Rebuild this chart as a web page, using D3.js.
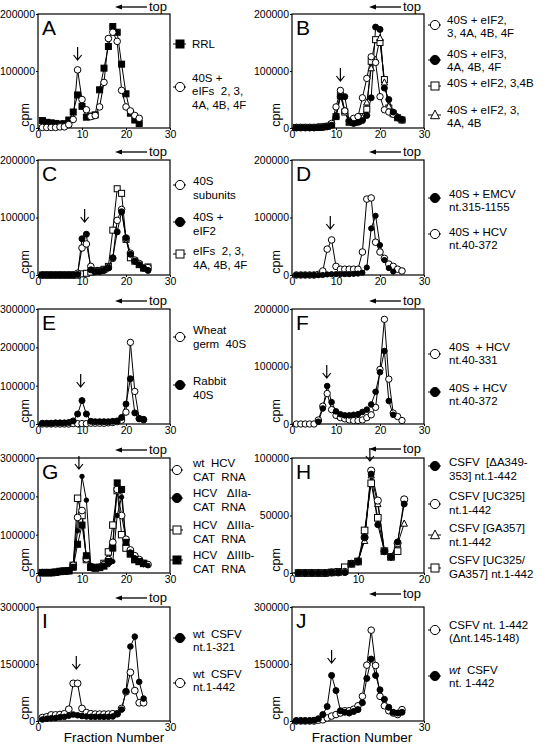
<!DOCTYPE html>
<html><head><meta charset="utf-8">
<script src="https://cdn.jsdelivr.net/npm/d3@7"></script>
<style>
body{margin:0;background:#fff}
svg{display:block}
text{font-family:"Liberation Sans",Arial,Helvetica,sans-serif;fill:#000;white-space:pre}
</style>
</head><body>
<svg id="c" width="545" height="744"></svg>
<script>
// ---------- tick values ----------
const yTicks200 = [0, 100000, 200000];
const yTicks300 = [0, 100000, 200000, 300000];
const yTicks300b = [0, 150000, 300000];
const yTicks100 = [0, 50000, 100000];
const xTicks30 = [0, 10, 20, 30];
const xTicks20 = [0, 10, 20];
const xTicksEnds = [0, 30];

// ---------- series (index 0 = fraction 1) ----------
const aRRL = [13000,10000,9000,8000,7000,7500,14000,28000,58000,38000,19000,21000,23000,67000,105000,143000,178000,168000,112000,60000,26000,14000,8000];
const a40S = [1000,1000,1000,1000,2000,2000,6000,15000,102000,50000,32000,20000,22000,37000,80000,157000,168000,152000,66000,37000,30000,22000,17000];

const bAll   = [1000,1000,1000,1000,1000,2000,2000,3000,8000,37000,66000,30000,12000,17000,20000,53000,87000,125000,115000,55000,32000,28000,24000,18000,14000];
const bEIF3  = [0,0,0,0,0,1000,1000,2000,5000,20000,55000,55000,12000,8000,10000,13000,22000,53000,177000,173000,70000,50000,28000,18000,15000];
const bNo4AF = [1000,1000,1000,1000,1000,1000,2000,3000,6000,20000,57000,28000,10000,10000,12000,20000,33000,117000,155000,150000,85000,35000,25000,18000,14000];
const bNo4F  = [1000,1000,1000,1000,1000,1000,2000,3000,5000,22000,60000,30000,11000,9000,11000,18000,45000,105000,120000,158000,80000,38000,25000,20000,15000];

const c40S  = [0,0,0,0,0,0,0,0,3000,47000,54000,15000,7000,7000,9000,13000,29000,95000,114000,63000,38000,26000,20000,12000,13000];
const cEIF2 = [0,0,0,0,0,0,0,0,1000,63000,71000,9000,6000,6000,8000,12000,30000,75000,110000,65000,36000,24000,18000,12000,8000];
const cEIFs = [0,0,0,0,0,0,0,0,0,2000,3000,5000,7000,8000,10000,15000,78000,150000,142000,62000,30000,24000,18000,12000,14000];

const dEMCV = [0,0,0,0,0,0,0,1000,1500,1500,1500,1500,1500,2000,2500,4000,13000,81000,103000,52000,26000,12000,6000];
const dHCV  = [0,0,0,0,0,1000,7000,45000,61000,15000,10000,10000,10000,10000,10000,40000,132000,134000,57000,40000,29000,19000,15000,10000,7000];

const eWheat  = [0,0,0,0,0,0,0,1000,1000,1000,1000,2000,2000,2000,2000,3000,4000,6000,10000,31000,213000,85000,14000,11000];
const eRabbit = [2000,2000,2000,3000,3000,3000,4000,8000,26000,61000,26000,7000,6000,6000,6000,6000,7000,8000,17000,52000,118000,29000,14000,12000];

const f331 = [0,0,0,0,0,7000,31000,53000,25000,15000,11000,9000,7000,6000,6000,7000,11000,16000,29000,95000,182000,78000,19000,13000,6000];
const f372 = [null,null,null,null,null,4000,27000,66000,38000,22000,17000,15000,15000,16000,17000,21000,25000,34000,56000,90000,127000,40000,16000];

const gWt    = [1000,1000,1000,2000,4000,5000,6000,20000,145000,163000,37000,15000,14000,15000,22000,35000,80000,218000,150000,88000,60000,45000,35000,25000,22000];
const gIIa   = [1000,1000,1000,2000,4000,5000,6000,15000,110000,252000,190000,20000,14000,14000,17000,22000,30000,150000,198000,80000,55000,40000,30000,22000,20000];
const gIIIa  = [1000,1000,1000,2000,4000,5000,6000,20000,195000,150000,35000,15000,13000,15000,25000,55000,125000,215000,100000,65000,50000,35000,30000,25000];
const gIIIb  = [1000,1000,1000,2000,4000,5000,6000,15000,75000,125000,45000,15000,13000,14000,18000,30000,65000,235000,218000,80000,50000,35000,30000,25000];

const hDelA  = [0,0,0,0,0,500,500,500,8000,10000,31000,86000,42000,19000,14000,27000,60000];
const hUC    = [0,0,0,0,0,500,500,1000,8000,10000,31000,89000,63000,19000,14000,26000,64000];
const hGA    = [0,0,0,0,0,500,500,1000,8000,10000,28000,85000,60000,19000,14000,25000,43000];
const hUCGA  = [0,0,0,0,0,500,1000,5000,8000,10000,37000,78000,48000,19000,14000,19000];

const i321 = [4000,6000,7000,8000,10000,11000,14000,17000,15000,13000,12000,11000,11000,11000,11000,11000,12000,19000,30000,78000,196000,222000,103000,59000];
const i442 = [9000,11000,16000,16000,17000,19000,31000,99000,99000,33000,22000,19000,18000,18000,18000,18000,19000,19000,33000,77000,128000,80000,48000,48000];

const jDel = [0,0,0,0,0,2000,3000,8000,13000,17000,21000,27000,27000,31000,40000,65000,147000,239000,146000,65000,40000,27000,21000,17000,30000];
const jWt  = [1000,1000,1000,1000,2000,6000,17000,38000,120000,80000,27000,23000,21000,25000,30000,48000,112000,163000,120000,82000,57000,36000,23000,21000,23000];

// ---------- legend labels ----------
const legA = ["RRL", "40S +\neIFs  2, 3,\n4A, 4B, 4F"];
const legB = ["40S + eIF2,\n3, 4A, 4B, 4F", "40S + eIF3,\n4A, 4B, 4F", "40S + eIF2, 3,4B", "40S + eIF2, 3,\n4A, 4B"];
const legC = ["40S\nsubunits", "40S +\neIF2", "eIFs  2, 3,\n4A, 4B, 4F"];
const legD = ["40S + EMCV\nnt.315-1155", "40S + HCV\nnt.40-372"];
const legE = ["Wheat\ngerm  40S", "Rabbit\n40S"];
const legF = ["40S  + HCV\nnt.40-331", "40S + HCV\nnt.40-372"];
const legG = ["wt  HCV\nCAT  RNA", "HCV   ΔIIa-\nCAT  RNA", "HCV   ΔIIIa-\nCAT  RNA", "HCV   ΔIIIb-\nCAT  RNA"];
const legH = ["CSFV  [ΔA349-\n353] nt.1-442", "CSFV [UC325]\nnt.1-442", "CSFV [GA357]\nnt.1-442", "CSFV [UC325/\nGA357] nt.1-442"];
const legI = ["wt  CSFV\nnt.1-321", "wt  CSFV\nnt.1-442"];
const legJ = ["CSFV nt. 1-442\n(Δnt.145-148)", "_wt_  CSFV\nnt. 1-442"];
const xTitle = "Fraction Number";

// ---------- layout ----------
const colL = [38, 292], colR = [170, 424];
const rowTop = [14, 160, 309, 458, 607], rowBot = [128, 275, 424, 573, 721];
const FONT = '"Liberation Sans",Arial,Helvetica,sans-serif';
const svg = d3.select('#c');

function drawMarker(g, type, cx, cy, s) {
  if (type === 'oc' || type === 'fc') {
    g.append('circle').attr('cx', cx).attr('cy', cy).attr('r', s)
      .attr('fill', type === 'fc' ? '#000' : '#fff').attr('stroke', '#000').attr('stroke-width', 1);
  } else if (type === 'osq' || type === 'fsq') {
    g.append('rect').attr('x', cx - s).attr('y', cy - s).attr('width', 2 * s).attr('height', 2 * s)
      .attr('fill', type === 'fsq' ? '#000' : '#fff').attr('stroke', '#000').attr('stroke-width', 1);
  } else if (type === 'otri') {
    const h = s * 1.1;
    g.append('path').attr('d', `M${cx},${cy - h}L${cx + s},${cy + h * 0.75}L${cx - s},${cy + h * 0.75}Z`)
      .attr('fill', '#fff').attr('stroke', '#000').attr('stroke-width', 1);
  }
}

const panels = [
  {id:'A', col:0, row:0, xMax:30, xTicks:xTicks30, yMax:200000, yTicks:yTicks200, arrow:[9, 47],
   series:[{v:aRRL, m:'fsq', s:3}, {v:a40S, m:'oc', s:3.3}],
   leg:{mx:180, tx:192, labels:legA, m:['fsq','oc'], my:[44, 87], ty:[44, 78], lh:13.3}},
  {id:'B', col:1, row:0, xMax:30, xTicks:xTicks30, yMax:200000, yTicks:yTicks200, arrow:[11, 68],
   series:[{v:bNo4AF, m:'osq', s:3}, {v:bNo4F, m:'otri', s:3.2}, {v:bAll, m:'oc', s:3.2}, {v:bEIF3, m:'fc', s:3}],
   leg:{mx:435, tx:447, labels:legB, m:['oc','fc','osq','otri'], my:[25, 60, 86, 115], ty:[20, 54, 83, 110], lh:13.3}},
  {id:'C', col:0, row:1, xMax:30, xTicks:xTicks30, yMax:200000, yTicks:yTicks200, arrow:[10.6, 209],
   series:[{v:cEIFs, m:'osq', s:3}, {v:c40S, m:'oc', s:3.3}, {v:cEIF2, m:'fc', s:3}],
   leg:{mx:180, tx:193, labels:legC, m:['oc','fc','osq'], my:[185, 222, 254], ty:[181, 217, 251], lh:14}},
  {id:'D', col:1, row:1, xMax:30, xTicks:xTicks30, yMax:200000, yTicks:yTicks200, arrow:[8.7, 216],
   series:[{v:dHCV, m:'oc', s:3.3}, {v:dEMCV, m:'fc', s:2.6}],
   leg:{mx:435, tx:449, labels:legD, m:['fc','oc'], my:[198, 234], ty:[194, 232], lh:13.3}},
  {id:'E', col:0, row:2, xMax:30, xTicks:xTicks30, yMax:300000, yTicks:yTicks300, arrow:[9.7, 374],
   series:[{v:eWheat, m:'oc', s:3.2}, {v:eRabbit, m:'fc', s:3}],
   leg:{mx:180, tx:193, labels:legE, m:['oc','fc'], my:[337, 385], ty:[330, 381], lh:14}},
  {id:'F', col:1, row:2, xMax:30, xTicks:xTicks30, yMax:200000, yTicks:yTicks200, arrow:[7.9, 365],
   series:[{v:f331, m:'oc', s:3.2}, {v:f372, m:'fc', s:2.8}],
   leg:{mx:435, tx:449, labels:legF, m:['oc','fc'], my:[354, 392], ty:[347, 388], lh:13.3}},
  {id:'G', col:0, row:3, xMax:30, xTicks:xTicks30, yMax:300000, yTicks:yTicks300, arrow:[9.3, 456],
   series:[{v:gIIIa, m:'osq', s:3.2}, {v:gWt, m:'oc', s:3.4}, {v:gIIIb, m:'fsq', s:3}, {v:gIIa, m:'fc', s:2.2}],
   leg:{mx:177, tx:193, labels:legG, m:['oc','fc','osq','fsq'], my:[470, 498, 530, 560], ty:[463, 493, 525, 555], lh:14}},
  {id:'H', col:1, row:3, xMax:20, xTicks:xTicks20, yMax:100000, yTicks:yTicks100, arrow:[11.8, 448],
   series:[{v:hUCGA, m:'osq', s:3.3}, {v:hGA, m:'otri', s:3.2}, {v:hUC, m:'oc', s:3.6}, {v:hDelA, m:'fc', s:3}],
   leg:{mx:435, tx:449, labels:legH, m:['fc','oc','otri','osq'], my:[466, 504, 535, 568], ty:[462, 496, 528, 560], lh:13.5}},
  {id:'I', col:0, row:4, xMax:30, xTicks:xTicksEnds, yMax:300000, yTicks:yTicks300b, arrow:[8.7, 656],
   series:[{v:i442, m:'oc', s:3.4}, {v:i321, m:'fc', s:2.8}],
   leg:{mx:180, tx:193, labels:legI, m:['fc','oc'], my:[638, 683], ty:[634, 674], lh:13.3}},
  {id:'J', col:1, row:4, xMax:30, xTicks:xTicksEnds, yMax:300000, yTicks:yTicks300b, arrow:[9.0, 650],
   series:[{v:jDel, m:'oc', s:3.3}, {v:jWt, m:'fc', s:3}],
   leg:{mx:435, tx:449, labels:legJ, m:['oc','fc'], my:[630, 676], ty:[625, 670], lh:13.3}}
];

const topArrowY = {A:7, B:7, C:152, D:152, E:301, F:301, G:450, H:449, I:598, J:594};

panels.forEach(p => {
  const L = colL[p.col], R = colR[p.col], T = rowTop[p.row], B = rowBot[p.row];
  const x = d3.scaleLinear().domain([0, p.xMax]).range([L, R]);
  const y = d3.scaleLinear().domain([0, p.yMax]).range([B, T]);
  const g = svg.append('g');

  // y axis
  const ya = g.append('g').attr('transform', `translate(${L},0)`)
    .call(d3.axisLeft(y).tickValues(p.yTicks).tickSize(2).tickPadding(1).tickFormat(d3.format('d')));
  ya.select('.domain').remove();
  ya.attr('font-size', 10.5).attr('font-family', FONT);
  ya.selectAll('line').attr('stroke-width', 1);

  // x axis
  const xa = g.append('g').attr('transform', `translate(0,${B})`)
    .call(d3.axisBottom(x).tickValues(p.xTicks).tickSize(2).tickPadding(1).tickFormat(d3.format('d')));
  xa.select('.domain').remove();
  xa.attr('font-size', 10.5).attr('font-family', FONT);

  // frame
  g.append('rect').attr('x', L).attr('y', T).attr('width', R - L).attr('height', B - T)
    .attr('fill', 'none').attr('stroke', '#000').attr('stroke-width', 1.2);

  // panel letter
  g.append('text').attr('x', L + 4).attr('y', T + 21).attr('font-size', 21).text(p.id);

  // cpm
  const cx = p.col === 0 ? 25 : 276;
  g.append('text').attr('transform', `translate(${cx + 4},${B - 13}) rotate(-90)`)
    .attr('text-anchor', 'middle').attr('font-size', 12.5).text('cpm');

  // lines
  const line = d3.line().defined(d => d != null).x((d, i) => x(i + 1)).y(d => y(d));
  p.series.forEach(s => {
    g.append('path').datum(s.v).attr('d', line).attr('fill', 'none').attr('stroke', '#000').attr('stroke-width', 1);
  });
  // markers
  p.series.forEach(s => {
    s.v.forEach((d, i) => { if (d != null) drawMarker(g, s.m, x(i + 1), y(d), s.s); });
  });

  // down arrow
  const ax = x(p.arrow[0]), ay = p.arrow[1];
  g.append('path').attr('d', `M${ax},${ay}L${ax},${ay + 13}M${ax - 4},${ay + 8}L${ax},${ay + 13}L${ax + 4},${ay + 8}`)
    .attr('fill', 'none').attr('stroke', '#000').attr('stroke-width', 1.2);

  // top arrow
  const tx0 = p.col === 0 ? 115 : 369, tyy = topArrowY[p.id];
  g.append('line').attr('x1', tx0 + 5).attr('x2', tx0 + 32).attr('y1', tyy).attr('y2', tyy)
    .attr('stroke', '#000').attr('stroke-width', 1.3);
  g.append('path').attr('d', `M${tx0},${tyy}L${tx0 + 7},${tyy - 2.5}L${tx0 + 7},${tyy + 2.5}Z`).attr('fill', '#000');
  g.append('text').attr('x', tx0 + 34).attr('y', tyy + 4).attr('font-size', 13).text('top');

  // legend
  const lg = p.leg;
  lg.labels.forEach((lab, k) => {
    const my = lg.my[k];
    g.append('line').attr('x1', lg.mx - 7).attr('x2', lg.mx + 6).attr('y1', my).attr('y2', my)
      .attr('stroke', '#000').attr('stroke-width', 1);
    drawMarker(g, lg.m[k], lg.mx, my, lg.m[k] === 'otri' ? 4.5 : (lg.m[k].indexOf('sq') >= 0 ? 4 : 4.6));
    lab.split('\n').forEach((ln, j) => {
      const t = g.append('text').attr('x', lg.tx).attr('y', lg.ty[k] + j * lg.lh).attr('dy', '0.35em').attr('font-size', 11.5);
      ln.split('_').forEach((part, q) => {
        if (part.length) t.append('tspan').attr('font-style', q % 2 ? 'italic' : 'normal').text(part);
      });
    });
  });
});

// x-axis titles
svg.append('text').attr('x', 114).attr('y', 742).attr('text-anchor', 'middle').attr('font-size', 13.5).text(xTitle);
svg.append('text').attr('x', 362).attr('y', 742).attr('text-anchor', 'middle').attr('font-size', 13.5).text(xTitle);
</script>
</body></html>
